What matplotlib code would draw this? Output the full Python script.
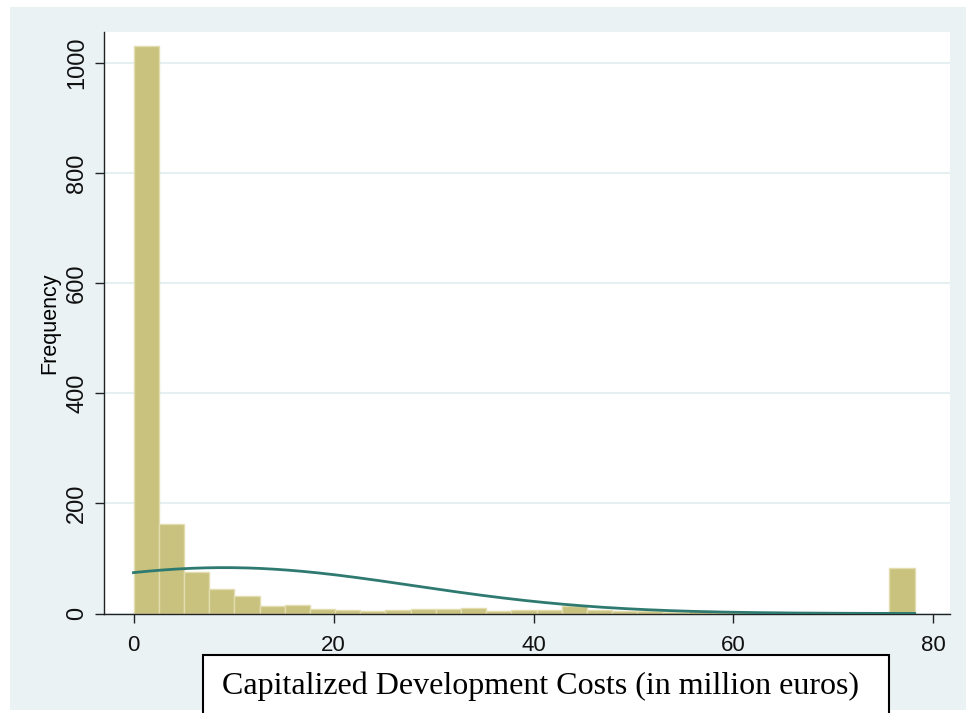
import numpy as np
import matplotlib
matplotlib.use("Agg")
import matplotlib.pyplot as plt
from matplotlib.patches import Rectangle

# Histogram of capitalized development costs: 31 equal-width bins
bin_start = 0.0
bin_width = 2.52
counts = [1030, 162, 75, 45, 32, 13, 16, 8, 7, 4,
          7, 8, 8, 10, 5, 7, 7, 13, 6, 5,
          4, 3, 5, 2, 2, 0, 0, 0, 1, 1, 83]
x_ticks = [0, 20, 40, 60, 80]
y_ticks = [0, 200, 400, 600, 800, 1000]
x_title = "Capitalized Development Costs (in million euros)"
y_title = "Frequency"

counts = np.asarray(counts, dtype=float)
edges = bin_start + bin_width * np.arange(len(counts) + 1)
mids = 0.5 * (edges[:-1] + edges[1:])

# Normal density scaled to frequencies, fitted to the binned data
n = counts.sum()
mu = np.sum(counts * mids) / n
sigma = np.sqrt(np.sum(counts * (mids - mu) ** 2) / n)
xs = np.linspace(edges[0], edges[-1], 400)
ys = n * bin_width / (sigma * np.sqrt(2 * np.pi)) * np.exp(-0.5 * ((xs - mu) / sigma) ** 2)

W, H = 966, 713
fig = plt.figure(figsize=(W / 100, H / 100), dpi=100, facecolor="white")

bg = "#eaf2f3"
fig.patches.append(Rectangle((10 / W, 3 / H), (W - 10) / W, (H - 10) / H,
                             transform=fig.transFigure, facecolor=bg,
                             edgecolor="none", zorder=-5))

ax = fig.add_axes([104 / W, (H - 613.5) / H, (950 - 104) / W, (613.5 - 32) / H])
ax.set_zorder(1)
ax.set_facecolor("white")

ax.bar(edges[:-1], counts, width=bin_width, align="edge",
       color="#c9c27e", edgecolor="#e2dcae", linewidth=1.0, zorder=2)
ax.plot(xs, ys, color="#2f7a70", linewidth=2.0, zorder=3)

ax.set_xlim(-2.95, 81.65)
ax.set_ylim(0, 1056)
ax.set_xticks(x_ticks)
ax.set_yticks(y_ticks)
ax.grid(axis="y", color="#e6eff1", linewidth=1.5, zorder=0)
ax.set_axisbelow(True)

for s in ("top", "right"):
    ax.spines[s].set_visible(False)
for s in ("left", "bottom"):
    ax.spines[s].set_color("#222222")
    ax.spines[s].set_linewidth(1.0)

ax.tick_params(axis="both", direction="out", length=6.5, width=1.0,
               color="#222222", labelcolor="#111111")
ax.tick_params(axis="x", pad=9, labelsize=16)
ax.tick_params(axis="y", pad=5, labelsize=17)
for lab in ax.get_yticklabels():
    lab.set_rotation(90)
    lab.set_va("center")
for lab in ax.get_xticklabels() + ax.get_yticklabels():
    lab.set_family("Liberation Sans")

ax.set_ylabel(y_title, fontsize=15.5, family="Liberation Sans", labelpad=4)

# Axis title in a framed box below the plot
fig.patches.append(Rectangle((203 / W, -10 / H), (889 - 203) / W, (H - 655 + 10) / H,
                             transform=fig.transFigure, facecolor="white",
                             edgecolor="black", linewidth=1.5, zorder=5))
fig.text(540 / W, (H - 686) / H, x_title, ha="center", va="center",
         family="Liberation Serif", fontsize=23, zorder=6)

fig.savefig("out.png", dpi=100, facecolor="white")
